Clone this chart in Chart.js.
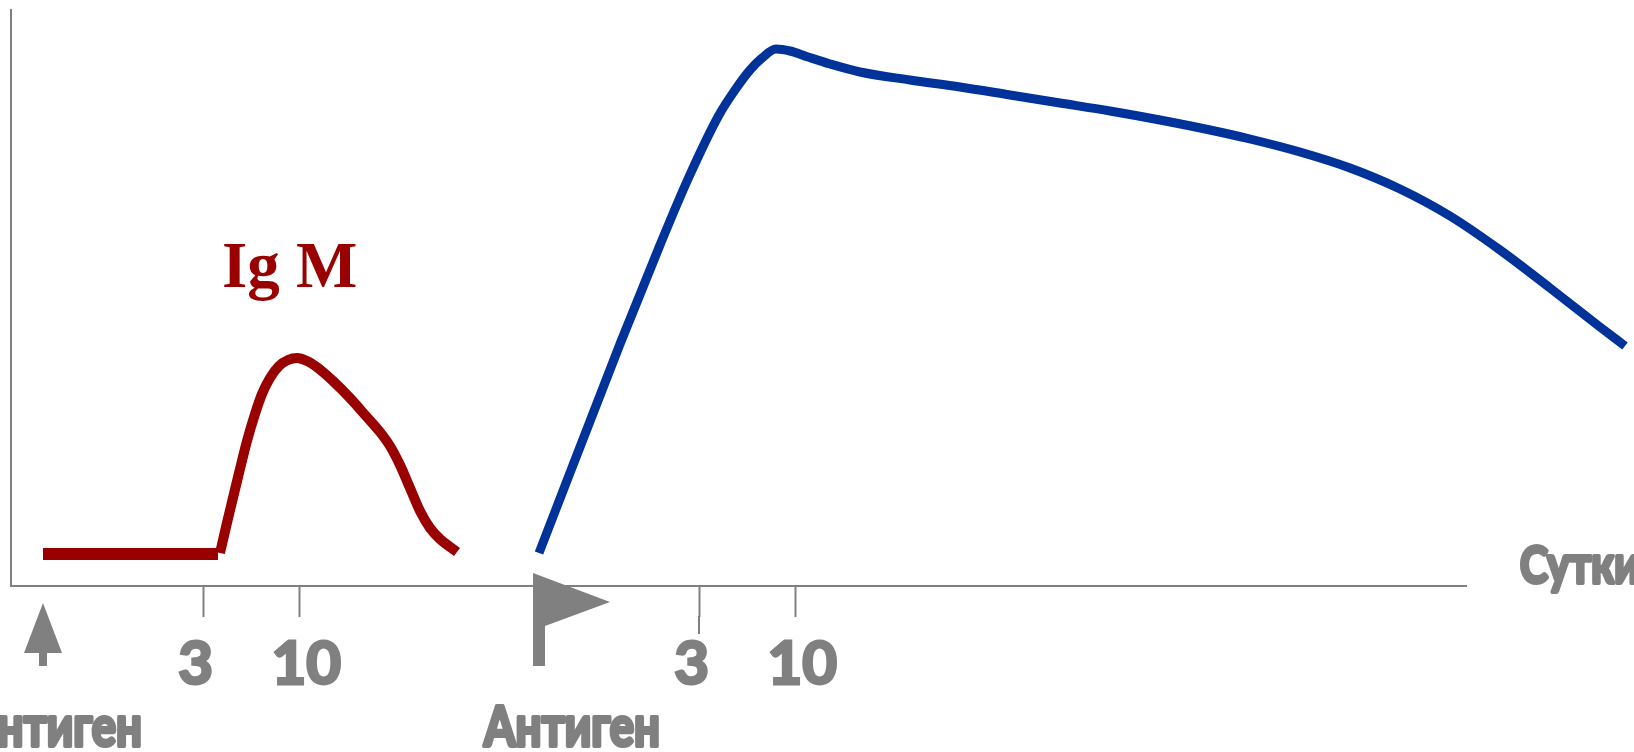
<!DOCTYPE html>
<html><head><meta charset="utf-8">
<script src="https://cdn.jsdelivr.net/npm/chart.js@4/dist/chart.umd.min.js"></script>
<style>html,body{margin:0;padding:0;background:#fff;overflow:hidden}</style>
</head><body>
<canvas id="c" width="1634" height="752"></canvas>
<script>
// Schematic time units (x) and relative antibody level (y)
const tickPositions = [192, 288, 688, 784];
const tickLabels = ['3 ', ' 10', '3 ', ' 10'];
const antigenTimes = [32, 528];
const xAxisEnd = 1456;
const igMBaseline = [{x:32,y:32},{x:207,y:32}];
const igMCurve = [
  {x:209,y:33},{x:215,y:59},{x:221,y:84},{x:228,y:113},{x:236,y:145},{x:244,y:172},
  {x:251,y:192},{x:259,y:208},{x:268,y:220},{x:277,y:226},{x:286,y:228},{x:296,y:225},
  {x:307,y:218},{x:322,y:205},{x:339,y:188},{x:355,y:170},{x:369,y:154},{x:379,y:140},
  {x:389,y:121},{x:399,y:98},{x:409,y:75},{x:419,y:58},{x:429,y:47},{x:446,y:34}
];
const igGCurve = [
  {x:528,y:33},{x:609,y:242},{x:649,y:341},{x:677,y:407},{x:708,y:471},{x:724,y:496},
  {x:739,y:516},{x:751,y:528},{x:765,y:537},{x:779,y:535},{x:797,y:529},{x:819,y:522},
  {x:849,y:514},{x:899,y:506},{x:949,y:499},{x:999,y:491},{x:1049,y:483},{x:1099,y:475},
  {x:1149,y:466},{x:1199,y:456},{x:1239,y:447},{x:1289,y:434},{x:1339,y:418},{x:1389,y:397},
  {x:1439,y:370},{x:1489,y:336},{x:1539,y:298},{x:1589,y:259},{x:1614,y:240}
];
const GRAY = '#808080';
const RED = '#990000';
const BLUE = '#003399';
const heavy = "Lato,'DejaVu Sans',sans-serif";

function condText(ctx, text, x, y, align, sx) {
  ctx.save();
  ctx.translate(x, y);
  ctx.scale(sx, 1);
  ctx.textAlign = align;
  ctx.lineJoin = 'round';
  ctx.lineWidth = 4;
  ctx.strokeText(text, 0, 0);
  ctx.fillText(text, 0, 0);
  ctx.restore();
}

const decor = {
  id: 'decor',
  afterDatasetsDraw(chart) {
    const {ctx, scales: {x, y}} = chart;
    const y0 = y.getPixelForValue(0);
    ctx.save();
    ctx.strokeStyle = GRAY; ctx.fillStyle = GRAY; ctx.lineWidth = 2;
    // x axis line
    ctx.beginPath();
    ctx.moveTo(x.getPixelForValue(0), y0);
    ctx.lineTo(x.getPixelForValue(xAxisEnd), y0);
    ctx.stroke();
    // longer tick under second "3"
    const t3 = Math.round(x.getPixelForValue(tickPositions[2]));
    ctx.beginPath(); ctx.moveTo(t3, y0 + 30); ctx.lineTo(t3, y0 + 48); ctx.stroke();
    // arrow (first antigen)
    const ax = x.getPixelForValue(antigenTimes[0]);
    ctx.beginPath();
    ctx.moveTo(ax, y0 + 17); ctx.lineTo(ax + 19, y0 + 67); ctx.lineTo(ax - 19, y0 + 67);
    ctx.closePath(); ctx.fill();
    ctx.fillRect(ax - 4, y0 + 66, 8, 14);
    // flag (second antigen)
    const fx = x.getPixelForValue(antigenTimes[1]);
    ctx.beginPath();
    ctx.moveTo(fx - 6, y0 - 13); ctx.lineTo(fx + 71, y0 + 16); ctx.lineTo(fx + 6, y0 + 40);
    ctx.lineTo(fx + 6, y0 + 80); ctx.lineTo(fx - 6, y0 + 80);
    ctx.closePath(); ctx.fill();
    // texts (condensed heavy look)
    ctx.textBaseline = 'alphabetic';
    ctx.font = "bold 55px " + heavy;
    const sx = 176 / ctx.measureText('Антиген').width;
    condText(ctx, 'Антиген', ax + 99, y0 + 160, 'right', sx);
    condText(ctx, 'Антиген', fx - 55, y0 + 160, 'left', sx);
    ctx.font = "bold 51px " + heavy;
    condText(ctx, 'Сутки', x.getPixelForValue(1509), y0 - 3, 'left', sx);
    ctx.fillStyle = RED;
    ctx.textAlign = 'left';
    ctx.font = "bold 65px 'Liberation Serif','DejaVu Serif',serif";
    ctx.fillText('Ig M', x.getPixelForValue(211), y.getPixelForValue(299));
    ctx.restore();
  }
};

new Chart(document.getElementById('c'), {
  type: 'line',
  data: {
    datasets: [
      {data: igMBaseline, borderColor: RED, borderWidth: 12, tension: 0, pointRadius: 0, borderCapStyle: 'butt', fill: false},
      {data: igMCurve, borderColor: RED, borderWidth: 10, cubicInterpolationMode: 'monotone', pointRadius: 0, borderCapStyle: 'butt', fill: false},
      {data: igGCurve, borderColor: BLUE, borderWidth: 9, cubicInterpolationMode: 'monotone', pointRadius: 0, borderCapStyle: 'butt', fill: false}
    ]
  },
  options: {
    responsive: false,
    devicePixelRatio: 1,
    animation: false,
    layout: {padding: {left: 0, right: 0, top: 10, bottom: 0}},
    plugins: {legend: {display: false}, tooltip: {enabled: false}},
    scales: {
      x: {
        type: 'linear', min: 0, max: 1623,
        border: {display: false},
        grid: {display: true, drawOnChartArea: false, drawTicks: true, tickLength: 31, tickColor: GRAY, tickWidth: 2},
        afterBuildTicks: (s) => { s.ticks = tickPositions.map(v => ({value: v})); },
        afterFit: (s) => { s.height = 166; },
        ticks: {
          autoSkip: false, maxRotation: 0, padding: 12, color: GRAY,
          textStrokeColor: GRAY, textStrokeWidth: 3,
          font: {family: heavy, weight: 'bold', size: 60, lineHeight: 1.2},
          callback: (v, i) => tickLabels[i]
        }
      },
      y: {
        type: 'linear', min: 0, max: 576,
        border: {display: true, color: GRAY, width: 2},
        grid: {display: true, drawOnChartArea: false, drawTicks: false},
        ticks: {display: false},
        afterFit: (s) => { s.width = 11; }
      }
    }
  },
  plugins: [decor]
});
</script>
</body></html>
